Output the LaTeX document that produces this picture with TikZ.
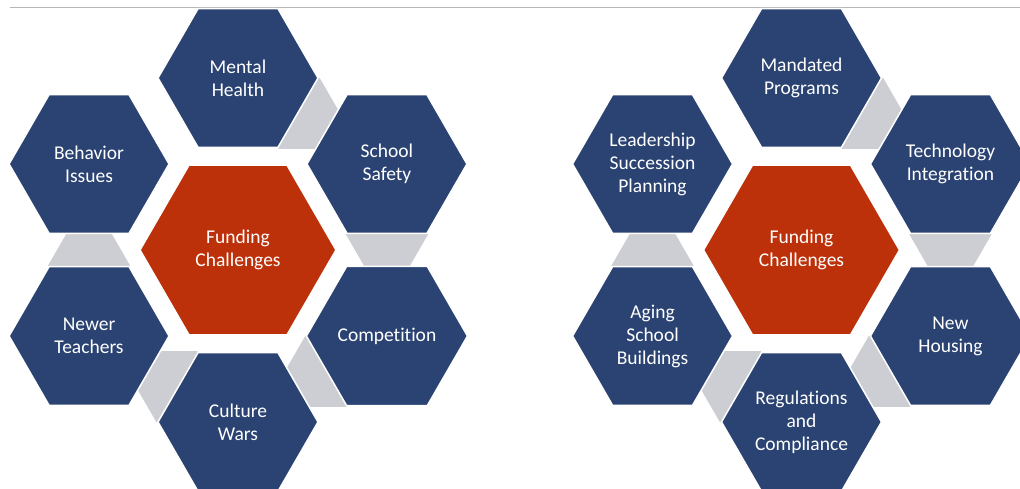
\documentclass[tikz,border=0pt]{standalone}
\usepackage{fontspec}
\setmainfont{Carlito}[Ligatures=NoCommon]
\usetikzlibrary{shapes.geometric,calc,backgrounds}
\definecolor{hexblue}{RGB}{43,67,114}
\definecolor{hexred}{RGB}{188,49,10}
\definecolor{hexgray}{RGB}{205,206,211}
\definecolor{rulegray}{RGB}{182,182,182}
\tikzset{
  hexa/.style={regular polygon,regular polygon sides=6,minimum size=160pt,inner sep=0pt,
    fill=hexblue,draw=white,line width=1.5pt,text=white,align=center,
    font=\fontsize{19.5}{23}\selectfont},
  hexmid/.style={hexa,minimum size=196pt,fill=hexred},
  hexlink/.style={regular polygon,regular polygon sides=6,minimum size=82pt,inner sep=0pt,fill=hexgray}
}

\begin{document}
\begin{tikzpicture}[x=1pt,y=-1pt]
	\useasboundingbox (0,0) rectangle (1020,489);
	% left cluster
	\node[hexmid] (fa) at (238,250) {Funding\\Challenges};
	\node[hexa] (mh) at ($(fa)+(-90:172)$) {Mental\\Health};
	\node[hexa] (ss) at ($(fa)+(-30:172)$) {School\\Safety};
	\node[hexa] (cp) at ($(fa)+(30:172)$) {Competition};
	\node[hexa] (cw) at ($(fa)+(90:172)$) {Culture\\Wars};
	\node[hexa] (nt) at ($(fa)+(150:172)$) {Newer\\Teachers};
	\node[hexa] (bi) at ($(fa)+(210:172)$) {Behavior\\Issues};
	% right cluster
	\node[hexmid] (fb) at (801.5,250) {Funding\\Challenges};
	\node[hexa] (mp) at ($(fb)+(-90:172)$) {Mandated\\Programs};
	\node[hexa] (ti) at ($(fb)+(-30:172)$) {Technology\\Integration};
	\node[hexa] (nh) at ($(fb)+(30:172)$) {New\\Housing};
	\node[hexa] (rc) at ($(fb)+(90:172)$) {Regulations\\and\\Compliance};
	\node[hexa] (ab) at ($(fb)+(150:172)$) {Aging\\School\\Buildings};
	\node[hexa] (ls) at ($(fb)+(210:172)$) {Leadership\\Succession\\Planning};
	\begin{pgfonlayer}{background}
		\draw[rulegray,line width=1.3pt] (10,7.5) -- (1020,7.5);
		\foreach \p/\q in {mh/ss,ss/cp,cp/cw,cw/nt,nt/bi,mp/ti,ti/nh,nh/rc,rc/ab,ab/ls}
			\node[hexlink] (g-\p) at ($(\p)!0.41!(\q)$) {};
	\end{pgfonlayer}
\end{tikzpicture}
\end{document}
